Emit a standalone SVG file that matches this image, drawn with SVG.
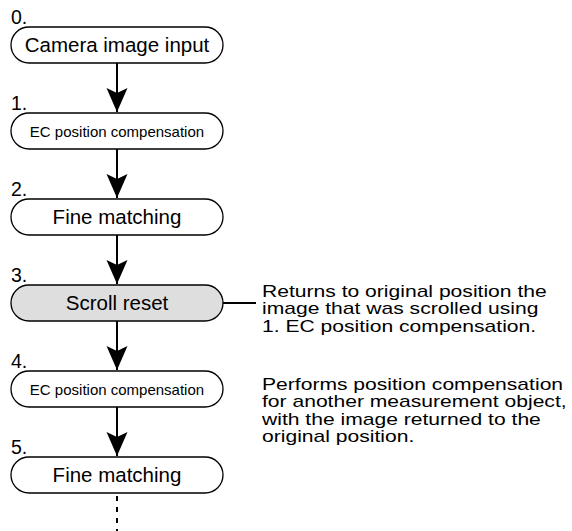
<svg xmlns="http://www.w3.org/2000/svg" width="572" height="531" viewBox="0 0 572 531">
<style>
text{font-family:"Liberation Sans",Arial,sans-serif;fill:#000}
.pill{fill:#fff;stroke:#000;stroke-width:1.3}
.gray{fill:#dedede}
.big{font-size:20.5px;text-anchor:middle}
.small{font-size:15px;text-anchor:middle}
.num{font-size:19.5px}
.note{font-size:16.6px}
.conn{stroke:#000;stroke-width:2;fill:none}
</style>
<defs>
<marker id="ah" markerUnits="userSpaceOnUse" markerWidth="26" markerHeight="24" viewBox="-25 -12 26 24" refX="0" refY="0" orient="auto">
<path d="M0,0 L-24,-10.5 L-19,0 L-24,10.5 Z" fill="#000"/>
</marker>
</defs>
<g id="n0"><text class="num" x="11" y="24">0.</text><rect class="pill" x="11" y="27" width="212" height="36" rx="18"/><text class="big" x="117" y="52">Camera image input</text></g>
<g id="n1"><text class="num" x="11" y="110">1.</text><rect class="pill" x="11" y="113" width="212" height="36" rx="18"/><text class="small" x="117" y="137">EC position compensation</text></g>
<g id="n2"><text class="num" x="11" y="196">2.</text><rect class="pill" x="11" y="199" width="212" height="36" rx="18"/><text class="big" x="117" y="224">Fine matching</text></g>
<g id="n3"><text class="num" x="11" y="282">3.</text><rect class="pill gray" x="11" y="285" width="212" height="36" rx="18"/><text class="big" x="117" y="310">Scroll reset</text></g>
<g id="n4"><text class="num" x="11" y="368">4.</text><rect class="pill" x="11" y="371" width="212" height="36" rx="18"/><text class="small" x="117" y="395">EC position compensation</text></g>
<g id="n5"><text class="num" x="11" y="454">5.</text><rect class="pill" x="11" y="457" width="212" height="36" rx="18"/><text class="big" x="117" y="482">Fine matching</text></g>
<g id="note1"><g transform="translate(262,0) scale(1.27,1)"><text class="note" x="0" y="297">Returns to original position the</text><text class="note" x="0" y="314.5">image that was scrolled using</text><text class="note" x="0" y="332">1. EC position compensation.</text></g></g>
<g id="note2"><g transform="translate(262,0) scale(1.27,1)"><text class="note" x="0" y="390">Performs position compensation</text><text class="note" x="0" y="407.5">for another measurement object,</text><text class="note" x="0" y="425">with the image returned to the</text><text class="note" x="0" y="442.5">original position.</text></g></g>
<g id="connectors">
<line class="conn" x1="117" y1="63" x2="117" y2="112" marker-end="url(#ah)"/>
<line class="conn" x1="117" y1="149" x2="117" y2="198" marker-end="url(#ah)"/>
<line class="conn" x1="117" y1="235" x2="117" y2="284" marker-end="url(#ah)"/>
<line class="conn" x1="117" y1="321" x2="117" y2="370" marker-end="url(#ah)"/>
<line class="conn" x1="117" y1="407" x2="117" y2="456" marker-end="url(#ah)"/>
<line class="conn" x1="223" y1="303" x2="256" y2="303" stroke-width="1.5"/>
<line class="conn" x1="117" y1="496" x2="117" y2="531" stroke-dasharray="5 6"/>
</g>
</svg>
